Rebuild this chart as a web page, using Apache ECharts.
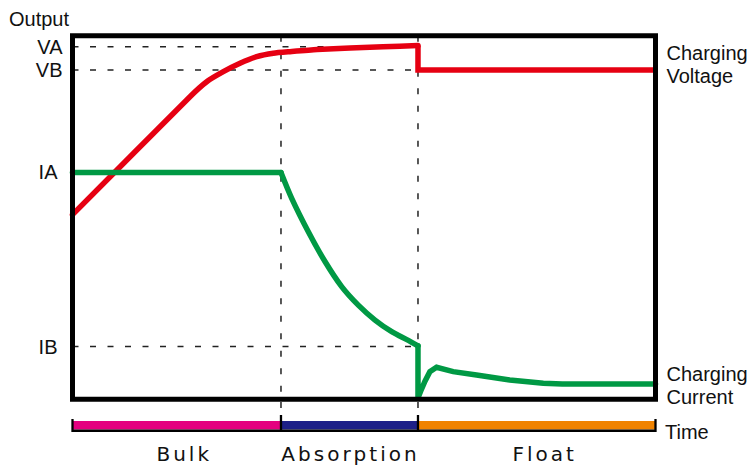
<!DOCTYPE html>
<html>
<head>
<meta charset="utf-8">
<script src="https://cdn.jsdelivr.net/npm/echarts@6/dist/echarts.min.js"></script>
<style>
  html, body { margin: 0; padding: 0; background: #fff; }
  #chart { width: 751px; height: 466px; }
  #chart text[style*="DejaVu"] { letter-spacing: 3px; }
</style>
</head>
<body>
<div id="chart"></div>
<script>
// ---- data (x: time 0..100, y: output 0..100) ----
const phaseNames = ['Bulk', 'Absorption', 'Float'];
const phaseBounds = [0, 35.76, 59.26, 100];
const phaseColors = ['#E4007F', '#1D2088', '#F08300'];
const phaseLabelNudge = [7.5, 1, 8];

const levelNames = ['VA', 'VB', 'IA', 'IB'];
const levelValues = [97.0, 90.6, 62.4, 14.5];
const guideLevels = ['VA', 'VB', 'IB'];

const seriesLabels = ['Charging\nVoltage', 'Charging\nCurrent'];
const axisNames = ['Output', 'Time'];

const voltageRise = [[0, 50.8], [20.15, 83.25], [23.02, 87.37], [25.87, 90.12], [28.73, 92.43],
  [31.6, 94.25], [34.44, 95.19], [37.31, 95.63], [41.94, 96.23], [53.26, 97.0], [59.26, 97.3]];
const voltageFloat = [[59.26, 97.3], [59.26, 90.6], [100, 90.6]];

const currentBulk = [[0, 62.4], [35.76, 62.4]];
const currentAbsorb = [[35.76, 62.4], [37.6, 55.3], [40.45, 46.1], [43.31, 37.9], [46.17, 31.0],
  [49.02, 25.9], [51.89, 21.8], [54.75, 18.6], [57.6, 16.2], [59.26, 14.7]];
const currentFloat = [[59.26, 14.7], [59.26, 0.4], [59.77, 2.4], [60.46, 5.0], [61.3, 7.6],
  [62.45, 8.8], [65.3, 7.6], [69.3, 6.7], [75.0, 5.3], [80.75, 4.4], [84.0, 4.2], [100, 4.2]];

// ---- styles ----
const RED = '#E60012', GREEN = '#009944';
const FONT = 'Liberation Sans';
const dotted = { color: '#222', width: 1.5, type: [6, 11.5] };

const chart = echarts.init(document.getElementById('chart'), null, { renderer: 'svg' });

const series = [];
// horizontal guides
guideLevels.forEach(n => {
  const v = levelValues[levelNames.indexOf(n)];
  series.push({ type: 'line', xAxisIndex: 0, yAxisIndex: 0, data: [[0, v], [phaseBounds[2], v]],
    symbol: 'none', silent: true, lineStyle: dotted, z: 1 });
});
// vertical guides
[phaseBounds[1], phaseBounds[2]].forEach(x => {
  series.push({ type: 'line', xAxisIndex: 0, yAxisIndex: 0, data: [[x, 100], [x, 0]],
    symbol: 'none', silent: true, lineStyle: dotted, z: 1 });
  series.push({ type: 'line', xAxisIndex: 1, yAxisIndex: 1, data: [[x, 1], [x, 0.567]],
    symbol: 'none', silent: true, lineStyle: dotted, z: 1 });
});

const lineBase = (data, color, smooth) => ({
  type: 'line', xAxisIndex: 0, yAxisIndex: 0, data, symbol: 'none', silent: true,
  smooth: smooth || false, clip: false, z: 3,
  lineStyle: { color, width: 5.5, cap: 'round', join: 'miter' }
});

series.push(lineBase(voltageRise, RED, 0.2));
const vf = lineBase(voltageFloat, RED);
vf.lineStyle.cap = 'butt';
vf.endLabel = { show: true, formatter: seriesLabels[0], distance: 11, offset: [0, -5.5],
  color: '#111', fontSize: 20, lineHeight: 23, fontFamily: FONT, align: 'left' };
series.push(vf);

series.push(lineBase(currentBulk, GREEN));
series.push(lineBase(currentAbsorb, GREEN, 0.3));
const cf = lineBase(currentFloat, GREEN);
cf.endLabel = { show: true, formatter: seriesLabels[1], distance: 11, offset: [0, 1.7],
  color: '#111', fontSize: 20, lineHeight: 23, fontFamily: FONT, align: 'left' };
series.push(cf);

// phase bar
series.push({
  type: 'custom', xAxisIndex: 1, yAxisIndex: 1, silent: true, z: 5,
  data: phaseNames.map((n, i) => [phaseBounds[i], phaseBounds[i + 1], i]),
  renderItem: function (params, api) {
    const i = api.value(2);
    const last = i === phaseNames.length - 1;
    const x0 = api.coord([api.value(0), 0])[0];
    const x1 = api.coord([api.value(1), 0])[0];
    const yBase = api.coord([0, 0])[1];
    const yTop = api.coord([0, 0.3667])[1];
    const yBot = api.coord([0, 0.0833])[1];
    const yEnd = api.coord([0, 0.433])[1];
    const yMid = api.coord([0, 0.567])[1];
    const children = [
      { type: 'rect', shape: { x: x0, y: yTop, width: x1 - x0, height: yBot - yTop }, style: { fill: phaseColors[i] } },
      { type: 'rect', shape: { x: x0, y: yBot, width: x1 - x0, height: yBase - yBot }, style: { fill: '#000' } },
      { type: 'line', shape: { x1: x0, y1: i === 0 ? yEnd : yMid, x2: x0, y2: yBase }, style: { stroke: '#000', lineWidth: 2.3 } },
      { type: 'text', style: { x: (x0 + x1) / 2 + phaseLabelNudge[i], y: yBase + 22, text: phaseNames[i], fill: '#111',
          font: '20px "DejaVu Sans"', align: 'center', verticalAlign: 'middle' } }
    ];
    if (last) {
      children.push({ type: 'line', shape: { x1: x1, y1: yEnd, x2: x1, y2: yBase }, style: { stroke: '#000', lineWidth: 2.3 } });
    }
    return { type: 'group', children };
  }
});

const option = {
  animation: false,
  backgroundColor: '#fff',
  grid: [
    { left: 72.5, right: 95.5, top: 35.8, bottom: 66.7, show: true, borderWidth: 5, borderColor: '#000',
      backgroundColor: 'rgba(0,0,0,0)', z: 10, containLabel: false, outerBoundsMode: 'none' },
    { left: 72.5, right: 95.5, top: 402, bottom: 34, show: false, containLabel: false, outerBoundsMode: 'none' }
  ],
  xAxis: [
    { gridIndex: 0, type: 'value', min: 0, max: 100, show: false },
    { gridIndex: 1, type: 'value', min: 0, max: 100, name: axisNames[1], nameLocation: 'end', nameGap: 9.5,
      nameTextStyle: { fontSize: 20, fontFamily: FONT, color: '#111', verticalAlign: 'middle' },
      axisLine: { show: false }, axisTick: { show: false }, axisLabel: { show: false }, splitLine: { show: false } }
  ],
  yAxis: [
    { gridIndex: 0, type: 'value', min: 0, max: 100, name: axisNames[0], nameLocation: 'end', nameGap: 7,
      nameTextStyle: { fontSize: 20, fontFamily: FONT, color: '#111', align: 'right', padding: [0, 3.5, 0, 0] },
      axisLine: { show: false }, axisTick: { show: false }, splitLine: { show: false },
      axisLabel: {
        show: true, customValues: levelValues, margin: 10, fontSize: 20, fontFamily: FONT, color: '#111',
        formatter: function (v) {
          let best = 0;
          levelValues.forEach((lv, k) => { if (Math.abs(lv - v) < Math.abs(levelValues[best] - v)) best = k; });
          const n = levelNames[best];
          return n.charAt(0) === 'I' ? '{i|' + n + '}' : n;
        },
        rich: { i: { fontSize: 20, fontFamily: FONT, color: '#111', padding: [0, 5, 0, 0] } }
      } },
    { gridIndex: 1, type: 'value', min: 0, max: 1, show: false }
  ],
  series
};
chart.setOption(option);
</script>
</body>
</html>
